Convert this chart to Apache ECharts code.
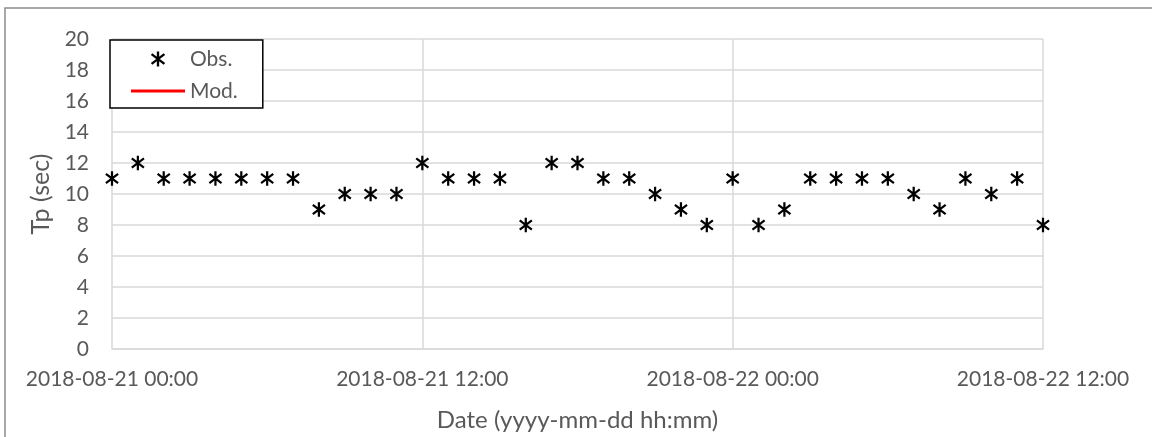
<!DOCTYPE html>
<html><head><meta charset="utf-8">
<script src="https://cdn.jsdelivr.net/npm/echarts@6/dist/echarts.min.js"></script>
<style>html,body{margin:0;padding:0;background:#fff}#c{width:1152px;height:437px}</style>
</head><body><div id="c"></div>
<script>
const times = [
  '2018-08-21 00:00','2018-08-21 01:00','2018-08-21 02:00','2018-08-21 03:00','2018-08-21 04:00',
  '2018-08-21 05:00','2018-08-21 06:00','2018-08-21 07:00','2018-08-21 08:00','2018-08-21 09:00',
  '2018-08-21 10:00','2018-08-21 11:00','2018-08-21 12:00','2018-08-21 13:00','2018-08-21 14:00',
  '2018-08-21 15:00','2018-08-21 16:00','2018-08-21 17:00','2018-08-21 18:00','2018-08-21 19:00',
  '2018-08-21 20:00','2018-08-21 21:00','2018-08-21 22:00','2018-08-21 23:00','2018-08-22 00:00',
  '2018-08-22 01:00','2018-08-22 02:00','2018-08-22 03:00','2018-08-22 04:00','2018-08-22 05:00',
  '2018-08-22 06:00','2018-08-22 07:00','2018-08-22 08:00','2018-08-22 09:00','2018-08-22 10:00',
  '2018-08-22 11:00','2018-08-22 12:00'
];
const obsTp = [11,12,11,11,11,11,11,11,9,10,10,10,12,11,11,11,8,12,12,11,11,10,9,8,11,8,9,11,11,11,11,10,9,11,10,11,8];
const modTp = [];
const xStart = '2018-08-21 00:00';
const xEnd = '2018-08-22 12:00';
const xStepHours = 12;
const yMin = 0, yMax = 20, yStep = 2;

function toMs(s){
  const [d,t] = s.split(' ');
  const [Y,M,D] = d.split('-').map(Number);
  const [h,m] = t.split(':').map(Number);
  return Date.UTC(Y, M-1, D, h, m);
}
function fmt(ms){
  const d = new Date(ms);
  const p = n => String(n).padStart(2,'0');
  return d.getUTCFullYear()+'-'+p(d.getUTCMonth()+1)+'-'+p(d.getUTCDate())+' '+p(d.getUTCHours())+':'+p(d.getUTCMinutes());
}

const FONT = 'Lato';
const GRAY = '#595959';
const ASTER = 'path://M5.9,0L8.1,0L8.1,14L5.9,14Z' +
  'M1.66,1.62L13.66,10.62L12.34,12.38L0.34,3.38Z' +
  'M0.34,10.62L12.34,1.62L13.66,3.38L1.66,12.38Z';
const LINEICON = 'path://M0,0L54,0L54,3L0,3Z';

const chart = echarts.init(document.getElementById('c'), null, {renderer:'canvas'});
chart.setOption({
  animation: false,
  backgroundColor: '#fff',
  textStyle: {fontFamily: FONT},
  graphic: [{
    type: 'rect', silent: true, z: 100,
    shape: {x: 5, y: 8, width: 1300, height: 600},
    style: {fill: 'none', stroke: '#8c8c8c', lineWidth: 1.5}
  }],
  grid: {left: 112, right: 109, top: 39, bottom: 86, containLabel: false},
  legend: {
    orient: 'vertical', left: 110, top: 40,
    backgroundColor: '#fff', borderColor: '#000', borderWidth: 1.5, borderRadius: 0,
    padding: [8, 25, 6, 21],
    itemWidth: 54, itemHeight: 15, itemGap: 10,
    symbolKeepAspect: true,
    textStyle: {fontFamily: FONT, fontSize: 21, color: GRAY, lineHeight: 22},
    data: [{name: 'Obs.', icon: ASTER}, {name: 'Mod.', icon: LINEICON}]
  },
  xAxis: {
    type: 'value',
    min: toMs(xStart), max: toMs(xEnd), interval: xStepHours*3600*1000,
    name: 'Date (yyyy-mm-dd hh:mm)', nameLocation: 'middle', nameGap: 59,
    nameTextStyle: {fontFamily: FONT, fontSize: 24, color: GRAY},
    axisLine: {show: true, lineStyle: {color: '#d9d9d9', width: 1.5}},
    axisTick: {show: false},
    splitLine: {show: true, lineStyle: {color: '#d9d9d9', width: 1.5}},
    axisLabel: {formatter: v => fmt(v), fontFamily: FONT, fontSize: 21, color: GRAY, margin: 20,
      showMinLabel: true, showMaxLabel: true, hideOverlap: false}
  },
  yAxis: {
    type: 'value', min: yMin, max: yMax, interval: yStep,
    name: 'Tp (sec)', nameLocation: 'middle', nameGap: 56,
    nameTextStyle: {fontFamily: FONT, fontSize: 25, color: GRAY},
    axisLine: {show: false}, axisTick: {show: false},
    splitLine: {show: true, lineStyle: {color: '#d9d9d9', width: 1.5}},
    axisLabel: {fontFamily: FONT, fontSize: 21, color: GRAY, margin: 23}
  },
  series: [
    {
      name: 'Obs.', type: 'scatter',
      symbol: ASTER, symbolSize: [13.5, 14.5],
      itemStyle: {color: '#000', opacity: 1},
      emphasis: {disabled: true},
      data: times.map((t,i) => [toMs(t), obsTp[i]]),
      z: 5
    },
    {
      name: 'Mod.', type: 'line',
      showSymbol: false,
      itemStyle: {color: '#ff0000'},
      lineStyle: {color: '#ff0000', width: 3},
      data: modTp.map((v,i) => [toMs(times[i]), v])
    }
  ]
});
</script>
</body></html>
